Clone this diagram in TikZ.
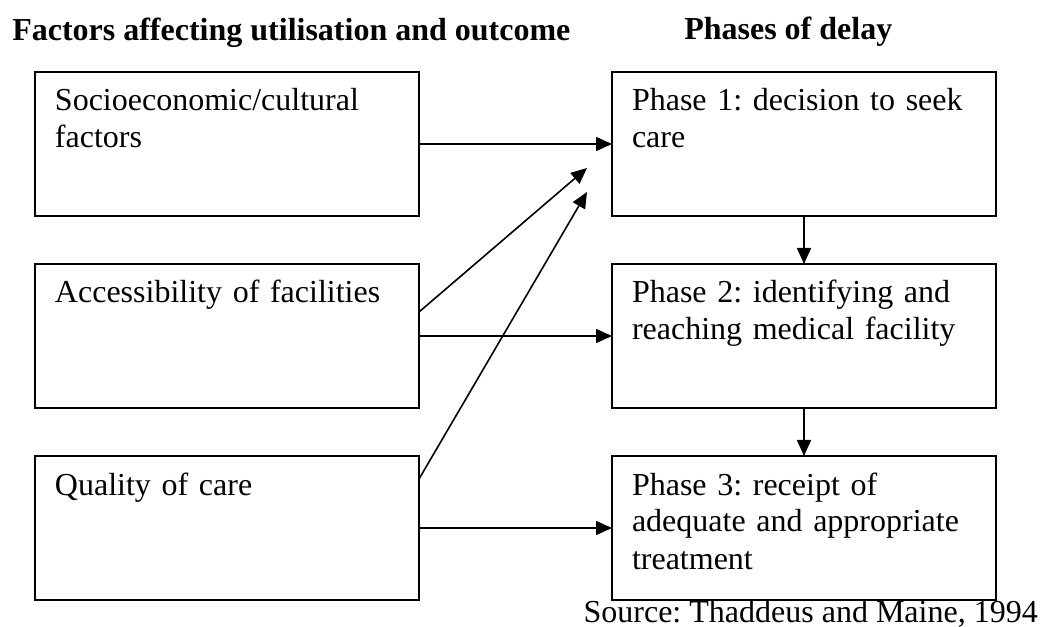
\documentclass[tikz,border=0pt]{standalone}
\usepackage{fontspec}
\setmainfont{Liberation Serif}
\usetikzlibrary{arrows.meta}
\frenchspacing
\tikzset{
  box/.style={draw, line width=1.1pt, minimum width=288pt, minimum height=108pt, inner sep=0pt, outer sep=0pt},
  txt/.style={anchor=base west, inner sep=0pt, outer sep=0pt, text width=270pt, align=left, font=\fontsize{24}{27.75}\selectfont},
  ttl/.style={anchor=base west, inner sep=0pt, font=\fontsize{24}{28}\selectfont\bfseries},
  arr/.style={line width=1.2pt, -{Triangle[length=12pt, width=10.5pt]}}
}
\begin{document}
\begin{tikzpicture}[x=0.75pt, y=-0.75pt]
\useasboundingbox (0,0) rectangle (1040,627);
% titles
\node[ttl] (t1) at (12,41) {Factors affecting utilisation and outcome};
\node[ttl] (t2) at (684,40) {Phases of delay};
% left boxes
\node[box] (a1) at (227,144) {};
\node[box] (a2) at (227,336) {};
\node[box] (a3) at (227,528) {};
% right boxes
\node[box] (b1) at (804,144) {};
\node[box] (b2) at (804,336) {};
\node[box] (b3) at (804,528) {};
% texts
\node[txt] (ta1) at ([xshift=15pt, yshift=-29.25pt]a1.north west) {Socioeconomic/cultural\\factors};
\node[txt] (ta2) at ([xshift=15pt, yshift=-29.25pt]a2.north west) {Accessibility of facilities};
\node[txt] (ta3) at ([xshift=15pt, yshift=-29.25pt]a3.north west) {Quality of care};
\node[txt] (tb1) at ([xshift=15pt, yshift=-29.25pt]b1.north west) {Phase 1: decision to seek\\care};
\node[txt] (tb2) at ([xshift=15pt, yshift=-29.25pt]b2.north west) {Phase 2: identifying and\\reaching medical facility};
\node[txt] (tb3) at ([xshift=15pt, yshift=-29.25pt]b3.north west) {Phase 3: receipt of\\adequate and appropriate\\treatment};
% source
\node[anchor=base east, inner sep=0pt, font=\fontsize{24}{28}\selectfont] (src) at (1038,622) {Source: Thaddeus and Maine, 1994};
% free ends of diagonal arrows
\coordinate (e1) at (587,168);
\coordinate (e2) at (587,192);
% connectors
\draw[arr] (a1.east) -- (b1.west);
\draw[arr] (a2.east) -- (b2.west);
\draw[arr] (a3.east) -- (b3.west);
\draw[arr] ([yshift=18pt]a2.east) -- (e1);
\draw[arr] ([yshift=36.75pt]a3.east) -- (e2);
\draw[arr] (b1.south) -- (b2.north);
\draw[arr] (b2.south) -- (b3.north);
\end{tikzpicture}
\end{document}
